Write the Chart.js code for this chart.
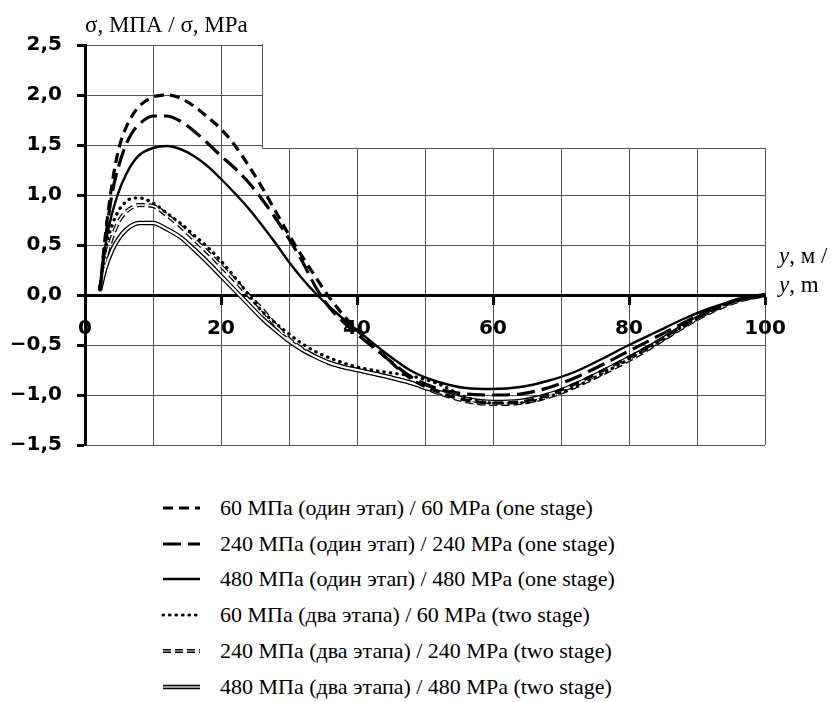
<!DOCTYPE html>
<html>
<head>
<meta charset="utf-8">
<script src="https://cdn.jsdelivr.net/npm/chart.js@4"></script>
<style>
  body { margin: 0; background: #fff; }
  #wrap { position: relative; width: 834px; height: 702px; background: #fff; color: #000; }
  #c { position: absolute; left: 0; top: 0; }
  .ttl, .row { font-family: 'Liberation Serif', 'Times New Roman', Tinos, 'DejaVu Serif', serif; }
  .ttl { position: absolute; font-size: 23px; line-height: 1; white-space: nowrap; }
  #legend { position: absolute; left: 160px; top: 490px; }
  .row { display: flex; align-items: center; height: 35.8px; font-size: 22px; }
  .row svg { margin-right: 18px; flex: none; }
</style>
</head>
<body>
<div id="wrap">
  <canvas id="c" width="834" height="460"></canvas>
  <div class="ttl" style="left:85px;top:13px">σ, МПА / σ, MPa</div>
  <div class="ttl" style="left:779px;top:244px"><i>y</i>, м /</div>
  <div class="ttl" style="left:779px;top:273px"><i>y</i>, m</div>
  <div id="legend"></div>
</div>
<script>
// координата y, м
const yPos = [2.2, 3, 4, 5, 6, 7, 8, 10, 12, 14, 16, 18, 20, 22, 24, 26, 28, 30, 32, 34, 36, 38, 40,
  44, 48, 52, 56, 60, 64, 68, 72, 76, 80, 84, 88, 92, 96, 100]

// напряжения σ, МПа
const s60one = [0.05, 0.6, 1.12, 1.47, 1.67, 1.8, 1.89, 1.98, 2.0, 1.97, 1.89, 1.78, 1.66, 1.5, 1.3, 1.08, 0.84, 0.6, 0.38, 0.17, -0.03, -0.2, -0.35,
  -0.61, -0.84, -0.97, -1.05, -1.08, -1.07, -1.0, -0.89, -0.76, -0.62, -0.47, -0.31, -0.16, -0.05, 0]
const s240one = [0.05, 0.55, 1.02, 1.3, 1.5, 1.63, 1.71, 1.79, 1.79, 1.74, 1.64, 1.52, 1.39, 1.27, 1.13, 0.96, 0.77, 0.56, 0.33, 0.07, -0.13, -0.27, -0.39,
  -0.61, -0.82, -0.94, -0.99, -1.0, -0.99, -0.93, -0.83, -0.7, -0.56, -0.42, -0.28, -0.15, -0.05, 0]
const s480one = [0.04, 0.5, 0.82, 1.04, 1.2, 1.32, 1.4, 1.47, 1.49, 1.46, 1.39, 1.29, 1.16, 1.02, 0.87, 0.7, 0.52, 0.33, 0.16, 0.01, -0.12, -0.24, -0.35,
  -0.57, -0.76, -0.87, -0.93, -0.94, -0.92, -0.86, -0.77, -0.64, -0.5, -0.37, -0.24, -0.13, -0.05, 0]
const s60two = [0.05, 0.45, 0.7, 0.85, 0.93, 0.97, 0.97, 0.92, 0.82, 0.72, 0.6, 0.48, 0.34, 0.18, 0.01, -0.16, -0.28, -0.39, -0.49, -0.57, -0.63, -0.68, -0.72,
  -0.77, -0.81, -0.89, -1.02, -1.08, -1.08, -1.02, -0.92, -0.79, -0.64, -0.48, -0.31, -0.16, -0.05, 0]
const s240two = [0.05, 0.35, 0.58, 0.74, 0.83, 0.88, 0.9, 0.89, 0.8, 0.69, 0.56, 0.43, 0.29, 0.15, 0.0, -0.14, -0.3, -0.44, -0.54, -0.62, -0.68, -0.72, -0.75,
  -0.81, -0.88, -0.98, -1.06, -1.09, -1.08, -1.02, -0.92, -0.79, -0.65, -0.49, -0.32, -0.17, -0.06, 0]
const s480two = [0.05, 0.27, 0.45, 0.57, 0.65, 0.7, 0.72, 0.72, 0.66, 0.58, 0.46, 0.33, 0.19, 0.05, -0.09, -0.23, -0.35, -0.46, -0.55, -0.62, -0.68, -0.72, -0.75,
  -0.81, -0.88, -0.97, -1.04, -1.07, -1.06, -1.0, -0.9, -0.77, -0.63, -0.48, -0.31, -0.16, -0.05, 0]

const labels = [
  '60 МПа (один этап) / 60 MPa (one stage)',
  '240 МПа (один этап) / 240 MPa (one stage)',
  '480 МПа (один этап) / 480 MPa (one stage)',
  '60 МПа (два этапа) / 60 MPa (two stage)',
  '240 МПа (два этапа) / 240 MPa (two stage)',
  '480 МПа (два этапа) / 480 MPa (two stage)'
]
const seriesList = [s60one, s240one, s480one, s60two, s240two, s480two]

// стиль линий
const styles = [
  { dash: [10, 6], width: 3.2 },
  { dash: [18, 7], width: 3.2 },
  { dash: [], width: 2.4 },
  { dash: [0.5, 6], width: 3.2, cap: 'round' },
  { dash: [8, 4], width: 4.2, inner: 1.6 },
  { dash: [], width: 4.6, inner: 2 }
]

const toPoints = arr => arr.map((v, i) => ({ x: yPos[i], y: v }))

const datasets = []
seriesList.forEach((arr, i) => {
  const st = styles[i]
  datasets.push({
    label: labels[i],
    data: toPoints(arr),
    borderColor: '#000',
    borderWidth: st.width,
    borderDash: st.dash,
    borderCapStyle: st.cap || 'butt',
    pointRadius: 0,
    cubicInterpolationMode: 'monotone',
    order: st.inner ? 2 : 0
  })
  if (st.inner) {
    // внутренняя белая линия (двойная линия)
    datasets.push({
      label: labels[i] + ' (inner)',
      data: toPoints(arr),
      borderColor: '#fff',
      borderWidth: st.inner,
      borderDash: st.dash,
      pointRadius: 0,
      cubicInterpolationMode: 'monotone',
      order: 1
    })
  }
})

const fmt = v => (v < 0 ? '−' : '') + Math.abs(v).toFixed(1).replace('.', ',')

// белая плашка над сеткой (как в исходнике)
const maskBox = {
  id: 'maskBox',
  beforeDatasetsDraw(chart) {
    const { ctx, chartArea, scales } = chart
    const x0 = Math.round(scales.x.getPixelForValue(26)) + 0.5
    const y1 = Math.round(scales.y.getPixelForValue(1.47)) + 0.5
    ctx.save()
    ctx.fillStyle = '#fff'
    ctx.fillRect(x0, 0, chart.width - x0, y1)
    ctx.strokeStyle = '#555'
    ctx.lineWidth = 1
    ctx.beginPath()
    ctx.moveTo(x0, chartArea.top - 1)
    ctx.lineTo(x0, y1)
    ctx.lineTo(chartArea.right + 1, y1)
    ctx.stroke()
    ctx.restore()
  }
}

const tickFont = { family: "'DejaVu Sans', Verdana, sans-serif", weight: 'bold', size: 20 }

new Chart(document.getElementById('c'), {
  type: 'line',
  data: { datasets },
  plugins: [maskBox],
  options: {
    responsive: false,
    animation: false,
    layout: { padding: { left: 0, right: 69, top: 45, bottom: 15 } },
    plugins: { legend: { display: false }, tooltip: { enabled: false } },
    scales: {
      x: {
        type: 'linear',
        position: { y: 0 },
        min: 0,
        max: 100,
        afterFit: s => { s.height = 0; s.paddingLeft = 0; s.paddingRight = 0 },
        ticks: {
          stepSize: 10,
          autoSkip: false,
          maxRotation: 0,
          padding: 14,
          color: '#000',
          font: tickFont,
          callback: v => (v % 20 === 0 ? String(v) : '')
        },
        grid: {
          color: '#555',
          lineWidth: 1,
          tickLength: 8,
          tickWidth: 3,
          tickColor: c => (c.tick && c.tick.value % 20 === 0 ? '#000' : 'rgba(0,0,0,0)')
        },
        border: { color: '#000', width: 3 }
      },
      y: {
        type: 'linear',
        position: 'left',
        min: -1.5,
        max: 2.5,
        afterFit: s => { s.width = 85; s.paddingTop = 0; s.paddingBottom = 0 },
        ticks: {
          stepSize: 0.5,
          padding: 15,
          color: '#000',
          font: tickFont,
          callback: v => fmt(v)
        },
        grid: {
          color: '#555',
          lineWidth: 1,
          tickLength: 8,
          tickWidth: 3,
          tickColor: '#000'
        },
        border: { color: '#000', width: 3 }
      }
    }
  }
})

// легенда
const legend = document.getElementById('legend')
labels.forEach((text, i) => {
  const st = styles[i]
  const dash = st.dash.length ? st.dash.join(' ') : 'none'
  let svg = `<svg width="42" height="20" viewBox="0 0 42 20">` +
    `<line x1="3" y1="10" x2="40" y2="10" stroke="#000" stroke-width="${st.width}" stroke-dasharray="${dash}" stroke-linecap="${st.cap || 'butt'}"/>`
  if (st.inner) {
    svg += `<line x1="3" y1="10" x2="40" y2="10" stroke="#999" stroke-width="${st.inner}" stroke-dasharray="${dash}"/>`
  }
  svg += '</svg>'
  const row = document.createElement('div')
  row.className = 'row'
  row.innerHTML = svg + '<span>' + text + '</span>'
  legend.appendChild(row)
})
</script>
</body>
</html>
